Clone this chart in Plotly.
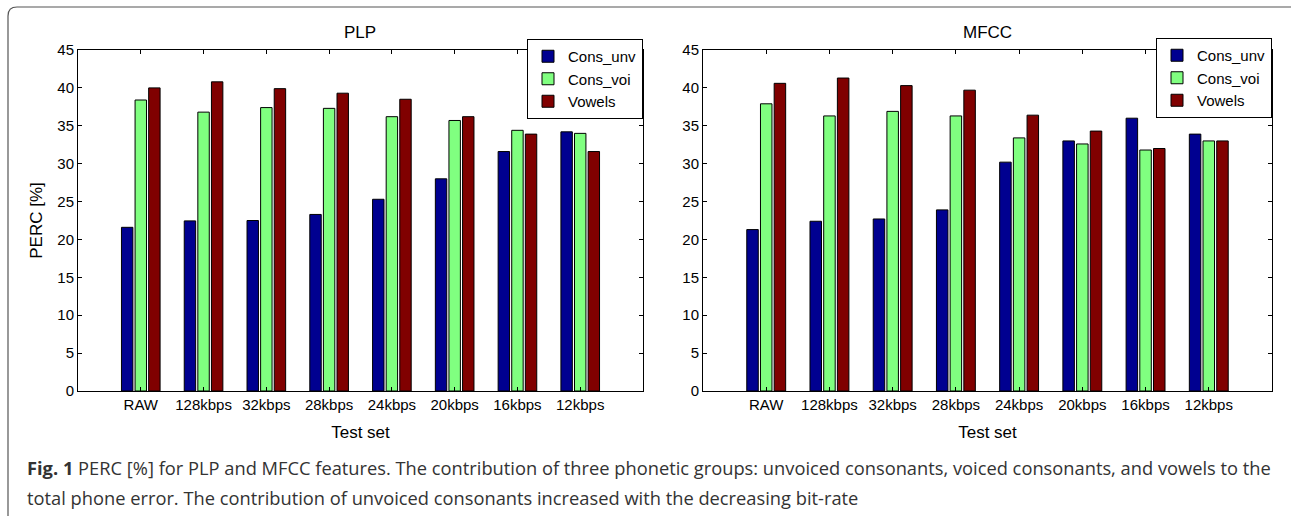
import plotly.graph_objects as go

categories = ["RAW", "128kbps", "32kbps", "28kbps", "24kbps", "20kbps", "16kbps", "12kbps"]
series_names = ["Cons_unv", "Cons_voi", "Vowels"]

plp_cons_unv = [21.6, 22.45, 22.5, 23.3, 25.3, 28.0, 31.6, 34.2]
plp_cons_voi = [38.4, 36.8, 37.4, 37.3, 36.2, 35.7, 34.4, 34.0]
plp_vowels = [40.0, 40.8, 39.9, 39.3, 38.5, 36.2, 33.9, 31.6]

mfcc_cons_unv = [21.3, 22.4, 22.7, 23.9, 30.2, 33.0, 36.0, 33.9]
mfcc_cons_voi = [37.9, 36.3, 36.9, 36.3, 33.4, 32.6, 31.8, 33.0]
mfcc_vowels = [40.6, 41.3, 40.3, 39.7, 36.4, 34.3, 32.0, 33.0]

y_ticks = [0, 5, 10, 15, 20, 25, 30, 35, 40, 45]

colors = ["#000090", "#80FF80", "#800000"]

W, H = 1291, 516
xpos = list(range(1, len(categories) + 1))

fig = go.Figure()

groups = [
    ([plp_cons_unv, plp_cons_voi, plp_vowels], "x", "y", "legend"),
    ([mfcc_cons_unv, mfcc_cons_voi, mfcc_vowels], "x2", "y2", "legend2"),
]
for vals, xa, ya, lg in groups:
    for name, v, c in zip(series_names, vals, colors):
        fig.add_trace(go.Bar(
            x=xpos, y=v, name=name, xaxis=xa, yaxis=ya, legend=lg,
            marker=dict(color=c, line=dict(color="#000000", width=1)),
            hoverinfo="y",
        ))

font_axes = "Liberation Sans, Arial, Helvetica, sans-serif"

axis_common = dict(
    showline=True, linecolor="#000000", linewidth=1, mirror="allticks",
    ticks="inside", ticklen=4, tickcolor="#000000", tickwidth=1,
    showgrid=False, zeroline=False,
    tickfont=dict(family=font_axes, size=15, color="#000000"),
)

def px_x(p):
    return p / W

def px_y(p):
    return 1 - p / H

ydom = [px_y(391), px_y(50)]
title_font = dict(family=font_axes, size=17, color="#000")
legend_common = dict(
    bgcolor="#ffffff", bordercolor="#000000", borderwidth=1,
    font=dict(family=font_axes, size=15, color="#000"),
    tracegroupgap=0, itemwidth=30,
)

fig.update_layout(
    width=W, height=H,
    margin=dict(l=0, r=0, t=0, b=0, autoexpand=False),
    paper_bgcolor="#ffffff", plot_bgcolor="#ffffff",
    barmode="group", bargap=0.35, bargroupgap=0.16,
    showlegend=True,
    xaxis=dict(domain=[px_x(78), px_x(643)], range=[0, 9],
               tickvals=xpos, ticktext=categories, anchor="y",
               title=dict(text="Test set", font=title_font, standoff=14),
               **axis_common),
    yaxis=dict(domain=ydom, range=[0, 45], tickvals=y_ticks, anchor="x",
               title=dict(text="PERC [%]", font=title_font, standoff=10),
               **axis_common),
    xaxis2=dict(domain=[px_x(703), px_x(1272)], range=[0, 9],
                tickvals=xpos, ticktext=categories, anchor="y2",
                title=dict(text="Test set", font=title_font, standoff=14),
                **axis_common),
    yaxis2=dict(domain=ydom, range=[0, 45], tickvals=y_ticks, anchor="x2",
                **axis_common),
    legend=dict(x=px_x(643), xanchor="right", y=px_y(39), yanchor="top", **legend_common),
    legend2=dict(x=px_x(1272), xanchor="right", y=px_y(38), yanchor="top", **legend_common),
)

# subplot titles
fig.add_annotation(text="PLP", x=px_x(360), y=px_y(32), xref="paper", yref="paper",
                   xanchor="center", yanchor="middle",
                   showarrow=False, font=title_font)
fig.add_annotation(text="MFCC", x=px_x(987), y=px_y(32), xref="paper", yref="paper",
                   xanchor="center", yanchor="middle",
                   showarrow=False, font=title_font)

# caption
cap_font = "Open Sans, Lato, sans-serif"
fig.add_annotation(
    text="<b>Fig. 1</b> PERC [%] for PLP and MFCC features. The contribution of three phonetic groups: unvoiced consonants, voiced consonants, and vowels to the",
    x=px_x(25), y=px_y(467), xref="paper", yref="paper", xanchor="left", yanchor="middle",
    showarrow=False, font=dict(family=cap_font, size=18.3, color="#333333"))
fig.add_annotation(
    text="total phone error. The contribution of unvoiced consonants increased with the decreasing bit-rate",
    x=px_x(25), y=px_y(497), xref="paper", yref="paper", xanchor="left", yanchor="middle",
    showarrow=False, font=dict(family=cap_font, size=18.3, color="#333333"))

# outer frame (left + top with rounded corner)
x0, y0, r = px_x(8), px_y(7), 9
path = (f"M {x0},{px_y(530)} L {x0},{px_y(7 + r)} "
        f"Q {x0},{y0} {px_x(8 + r)},{y0} L {px_x(1300)},{y0}")
fig.add_shape(type="path", path=path, xref="paper", yref="paper",
              line=dict(color="#555555", width=1.2))

fig.write_html("out.html", config={"displayModeBar": False},
               post_script="document.body.style.margin='0px';document.body.style.overflow='hidden';")
